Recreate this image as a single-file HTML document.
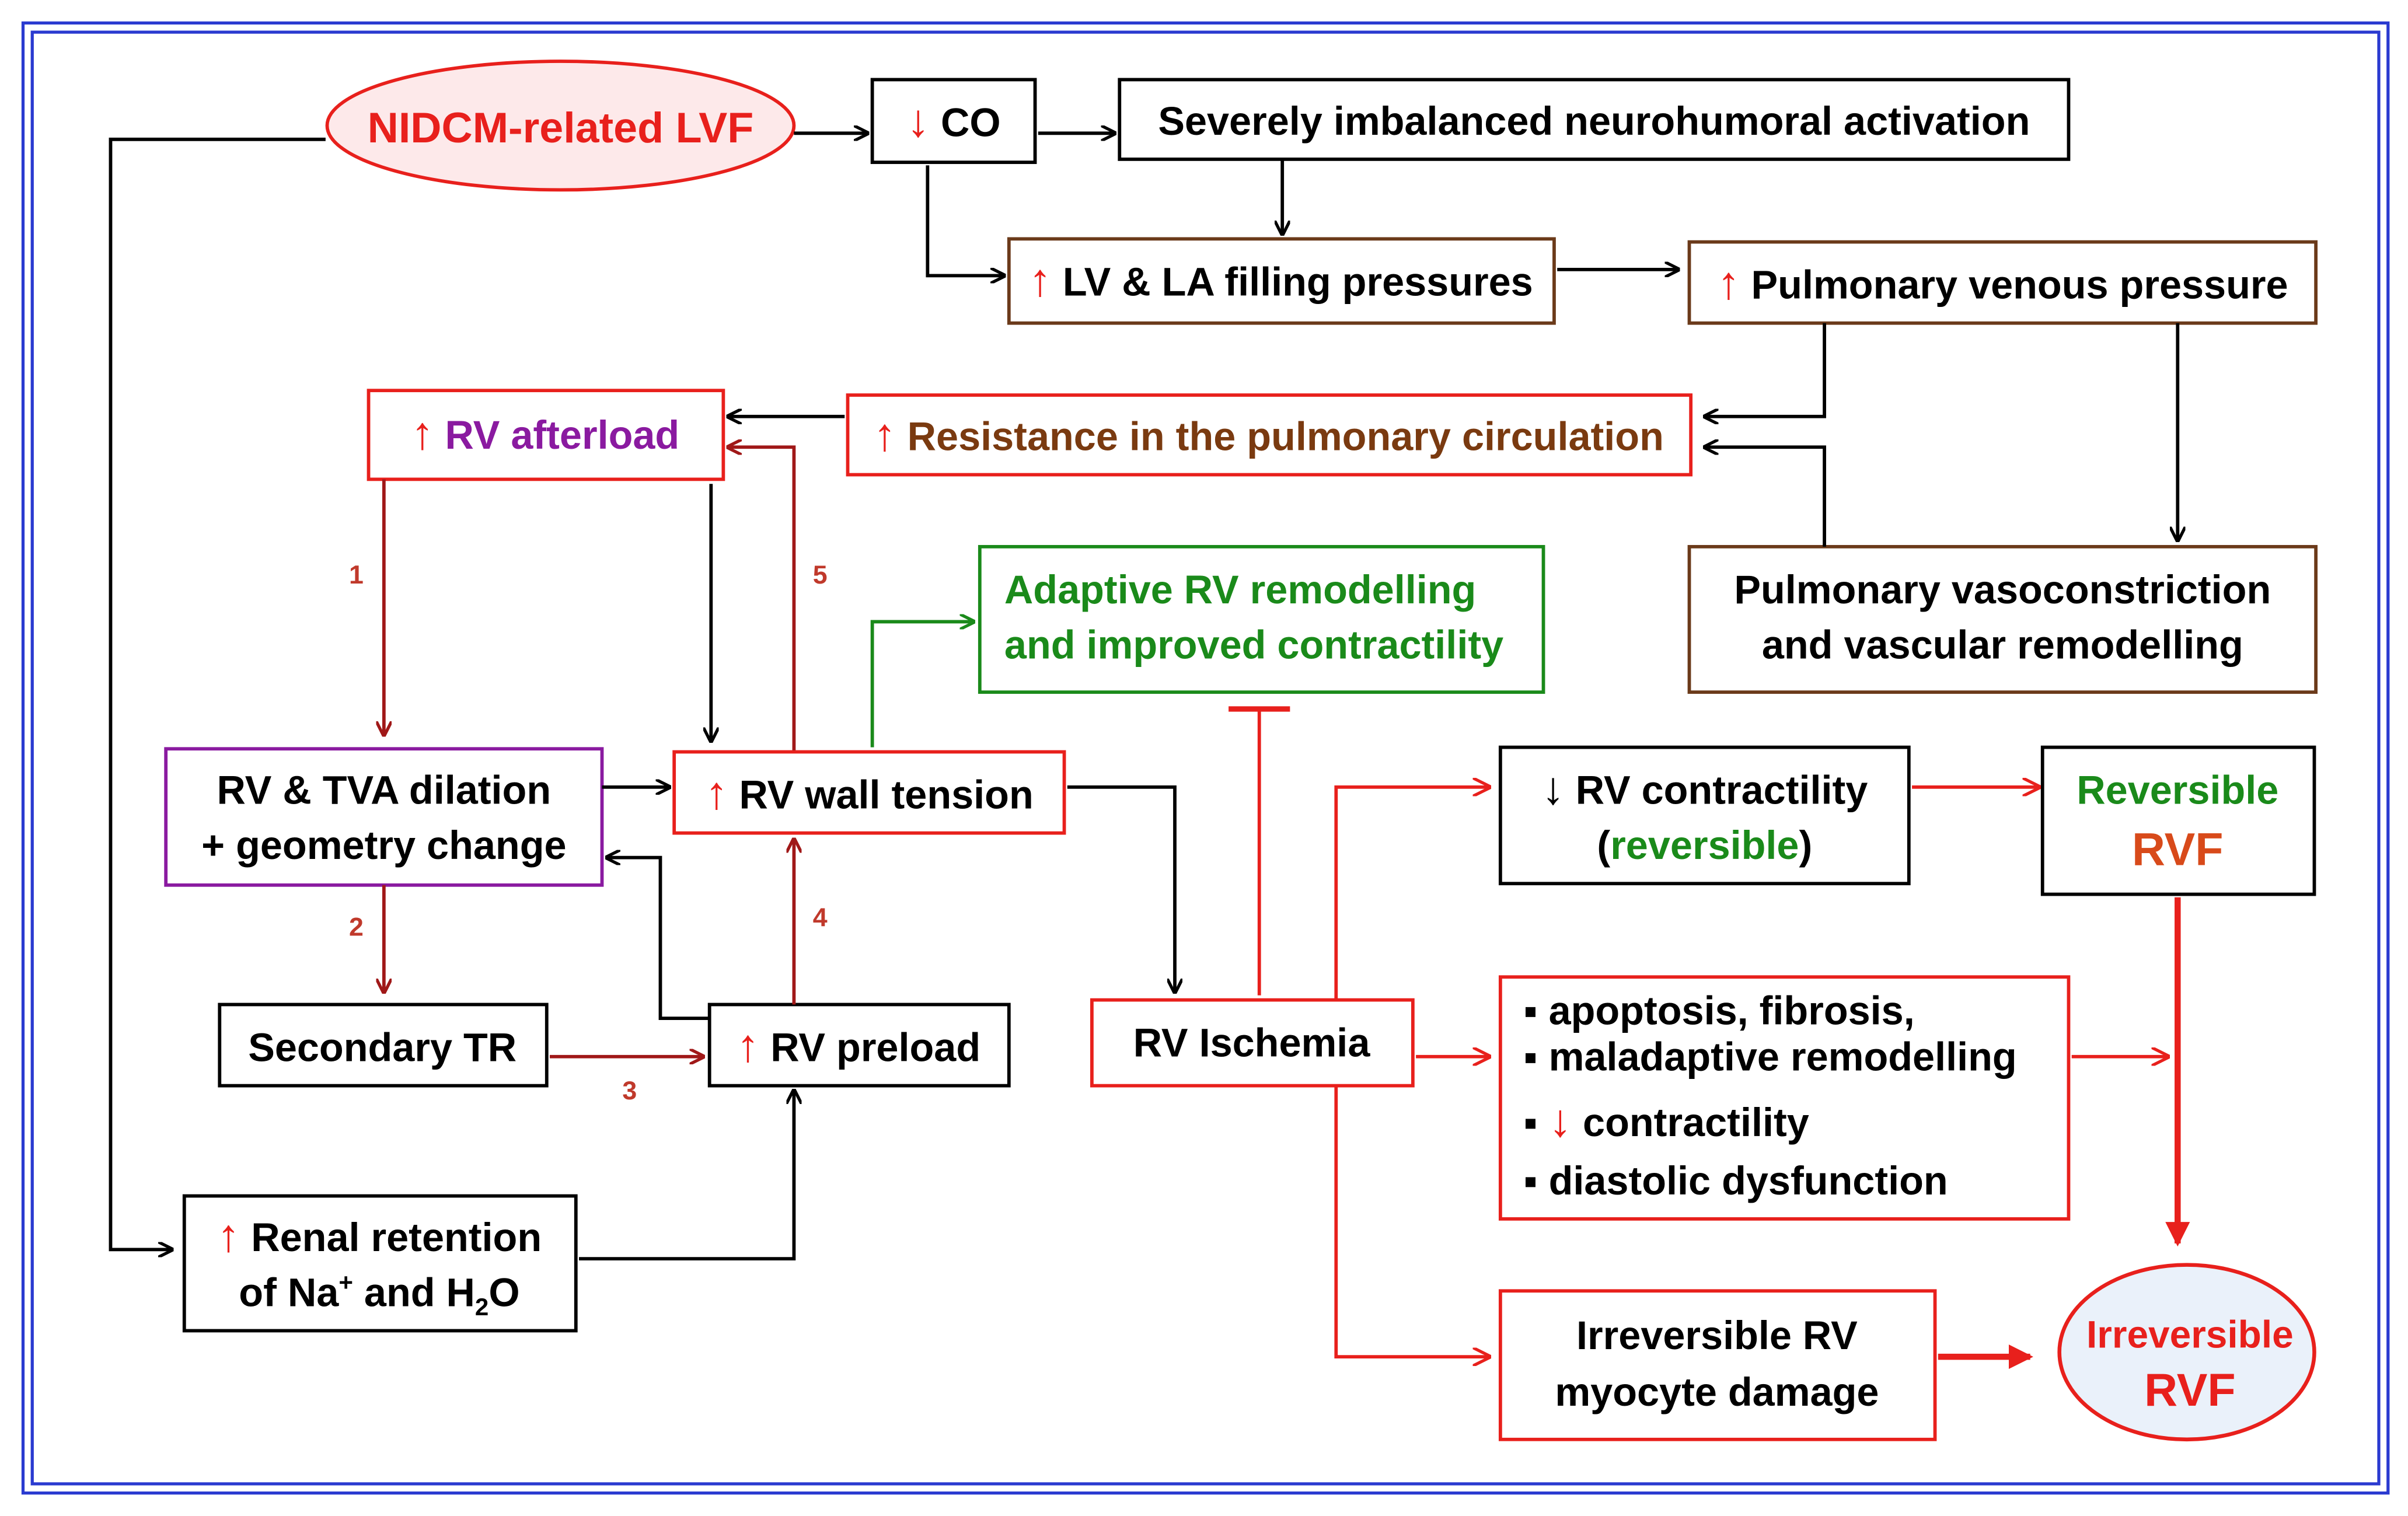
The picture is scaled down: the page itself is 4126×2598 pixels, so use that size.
<!DOCTYPE html>
<html><head><meta charset="utf-8"><style>
html,body{margin:0;padding:0;background:#fff;}
svg{display:block;}
text{font-family:"Liberation Sans",sans-serif;font-weight:bold;}
.ar{font-size:30px;}
</style></head><body>
<svg width="4126" height="2598" viewBox="0 0 1568 990" preserveAspectRatio="none" xmlns="http://www.w3.org/2000/svg">
<defs>
<marker id="ak" markerWidth="10" markerHeight="10" refX="9" refY="5" orient="auto" markerUnits="userSpaceOnUse"><path d="M0,0 L10,5 L0,10" fill="none" stroke="#000" stroke-width="2"/></marker>
<marker id="ad" markerWidth="10" markerHeight="10" refX="9" refY="5" orient="auto" markerUnits="userSpaceOnUse"><path d="M0,0 L10,5 L0,10" fill="none" stroke="#a01818" stroke-width="2"/></marker>
<marker id="ar" markerWidth="12" markerHeight="12" refX="11" refY="6" orient="auto" markerUnits="userSpaceOnUse"><path d="M0,0 L12,6 L0,12" fill="none" stroke="#e8201c" stroke-width="2"/></marker>
<marker id="ag" markerWidth="10" markerHeight="10" refX="9" refY="5" orient="auto" markerUnits="userSpaceOnUse"><path d="M0,0 L10,5 L0,10" fill="none" stroke="#1a8a1a" stroke-width="2"/></marker>
<marker id="aR" markerWidth="16" markerHeight="16" refX="14" refY="8" orient="auto" markerUnits="userSpaceOnUse"><path d="M0,0 L16,8 L0,16 Z" fill="#e8201c"/></marker>
</defs>
<rect x="0" y="0" width="1568" height="990" fill="#fff"/>
<rect x="15" y="15" width="1540" height="960" fill="none" stroke="#2a3ad0" stroke-width="2"/>
<rect x="21" y="21" width="1528" height="948" fill="none" stroke="#2a3ad0" stroke-width="2"/>

<g fill="none" stroke-width="2.2">
<rect x="568" y="52" width="106" height="54" stroke="#000"/>
<rect x="729" y="52" width="618" height="52" stroke="#000"/>
<rect x="657" y="156" width="355" height="55" stroke="#6b3a1a"/>
<rect x="1100" y="158" width="408" height="53" stroke="#6b3a1a"/>
<rect x="240" y="255" width="231" height="58" stroke="#e8201c"/>
<rect x="552" y="258" width="549" height="52" stroke="#e8201c"/>
<rect x="638" y="357" width="367" height="95" stroke="#1a8a1a"/>
<rect x="1100" y="357" width="408" height="95" stroke="#6b3a1a"/>
<rect x="108" y="489" width="284" height="89" stroke="#8a1aa0"/>
<rect x="439" y="491" width="254" height="53" stroke="#e8201c"/>
<rect x="977" y="488" width="266" height="89" stroke="#000"/>
<rect x="1330" y="488" width="177" height="96" stroke="#000"/>
<rect x="143" y="656" width="213" height="53" stroke="#000"/>
<rect x="462" y="656" width="195" height="53" stroke="#000"/>
<rect x="711" y="653" width="209" height="56" stroke="#e8201c"/>
<rect x="977" y="638" width="370" height="158" stroke="#e8201c"/>
<rect x="120" y="781" width="255" height="88" stroke="#000"/>
<rect x="977" y="843" width="283" height="97" stroke="#e8201c"/>
</g>
<ellipse cx="365" cy="82" rx="152" ry="42" fill="#fde9ea" stroke="#e8201c" stroke-width="2.2"/>
<ellipse cx="1424" cy="883" rx="83" ry="57" fill="#eaf1fa" stroke="#e8201c" stroke-width="2.5"/>

<g fill="none" stroke="#000" stroke-width="2.2">
<path d="M212,91 H72 V816 H112" marker-end="url(#ak)"/>
<path d="M517,87 H565" marker-end="url(#ak)"/>
<path d="M676,87 H726" marker-end="url(#ak)"/>
<path d="M604,108 V180 H654" marker-end="url(#ak)"/>
<path d="M835,104 V153" marker-end="url(#ak)"/>
<path d="M1014,176 H1093" marker-end="url(#ak)"/>
<path d="M1188,211 V272 H1110" marker-end="url(#ak)"/>
<path d="M1418,211 V353" marker-end="url(#ak)"/>
<path d="M1188,357 V292 H1110" marker-end="url(#ak)"/>
<path d="M550,272 H474" marker-end="url(#ak)"/>
<path d="M463,316 V484" marker-end="url(#ak)"/>
<path d="M392,514 H436" marker-end="url(#ak)"/>
<path d="M462,665 H430 V560 H395" marker-end="url(#ak)"/>
<path d="M377,822 H517 V712" marker-end="url(#ak)"/>
<path d="M695,514 H765 V648" marker-end="url(#ak)"/>
</g>
<g fill="none" stroke="#a01818" stroke-width="2.2">
<path d="M250,313 V480" marker-end="url(#ad)"/>
<path d="M517,490 V292 H474" marker-end="url(#ad)"/>
<path d="M250,578 V648" marker-end="url(#ad)"/>
<path d="M358,690 H458" marker-end="url(#ad)"/>
<path d="M517,656 V548" marker-end="url(#ad)"/>
</g>
<path d="M568,488 V406 H634" fill="none" stroke="#1a8a1a" stroke-width="2.2" marker-end="url(#ag)"/>
<g fill="none" stroke="#e8201c" stroke-width="2.2">
<path d="M820,650 V463"/>
<path d="M800,463 H840" stroke-width="3.5"/>
<path d="M870,653 V514 H970" marker-end="url(#ar)"/>
<path d="M922,690 H970" marker-end="url(#ar)"/>
<path d="M870,709 V886 H970" marker-end="url(#ar)"/>
<path d="M1245,514 H1328" marker-end="url(#ar)"/>
<path d="M1349,690 H1412" marker-end="url(#ar)"/>
<path d="M1418,586 V812" stroke-width="4" marker-end="url(#aR)"/>
<path d="M1262,886 H1322" stroke-width="4" marker-end="url(#aR)"/>
</g>

<g fill="#c0392b" font-size="17" text-anchor="middle">
<text x="232" y="381">1</text><text x="534" y="381">5</text>
<text x="232" y="611">2</text><text x="410" y="718">3</text><text x="534" y="605">4</text>
</g>

<g font-size="26" text-anchor="middle">
<text x="365" y="93" fill="#e8201c" font-size="28">NIDCM-related LVF</text>
<text x="621" y="89"><tspan fill="#e8201c" class="ar">↓</tspan> CO</text>
<text x="1038" y="88">Severely imbalanced neurohumoral activation</text>
<text x="834" y="193"><tspan fill="#e8201c" class="ar">↑</tspan> LV &amp; LA filling pressures</text>
<text x="1304" y="195"><tspan fill="#e8201c" class="ar">↑</tspan> Pulmonary venous pressure</text>
<text x="355" y="293" fill="#8a1aa0"><tspan fill="#e8201c" class="ar">↑</tspan> RV afterload</text>
<text x="826" y="294" fill="#7a3a10"><tspan fill="#e8201c" class="ar">↑</tspan> Resistance in the pulmonary circulation</text>
<text x="1304" y="394">Pulmonary vasoconstriction</text>
<text x="1304" y="430">and vascular remodelling</text>
<text x="250" y="525">RV &amp; TVA dilation</text>
<text x="250" y="561">+ geometry change</text>
<text x="566" y="528"><tspan fill="#e8201c" class="ar">↑</tspan> RV wall tension</text>
<text x="1110" y="525"><tspan class="ar">↓</tspan> RV contractility</text>
<text x="1110" y="561">(<tspan fill="#1a8a1a">reversible</tspan>)</text>
<text x="1418" y="525" fill="#1a8a1a">Reversible</text>
<text x="1418" y="565" fill="#d84a1a" font-size="30">RVF</text>
<text x="249" y="693">Secondary TR</text>
<text x="559" y="693"><tspan fill="#e8201c" class="ar">↑</tspan> RV preload</text>
<text x="815" y="690">RV Ischemia</text>
<text x="247" y="817"><tspan fill="#e8201c" class="ar">↑</tspan> Renal retention</text>
<text x="247" y="853">of Na<tspan font-size="16" dy="-10">+</tspan><tspan dy="10"> and H</tspan><tspan font-size="16" dy="6">2</tspan><tspan dy="-6">O</tspan></text>
<text x="1118" y="881">Irreversible RV</text>
<text x="1118" y="918">myocyte damage</text>
<text x="1426" y="880" fill="#e8201c" font-size="25">Irreversible</text>
<text x="1426" y="918" fill="#e8201c" font-size="30">RVF</text>
</g>
<g font-size="26" fill="#1a8a1a">
<text x="654" y="394">Adaptive RV remodelling</text>
<text x="654" y="430">and improved contractility</text>
</g>
<g font-size="26">
<text x="992" y="669">▪ apoptosis, fibrosis,</text>
<text x="992" y="699">▪ maladaptive remodelling</text>
<text x="992" y="742">▪ <tspan fill="#e8201c" class="ar">↓</tspan> contractility</text>
<text x="992" y="780">▪ diastolic dysfunction</text>
</g>
</svg>
</body></html>
